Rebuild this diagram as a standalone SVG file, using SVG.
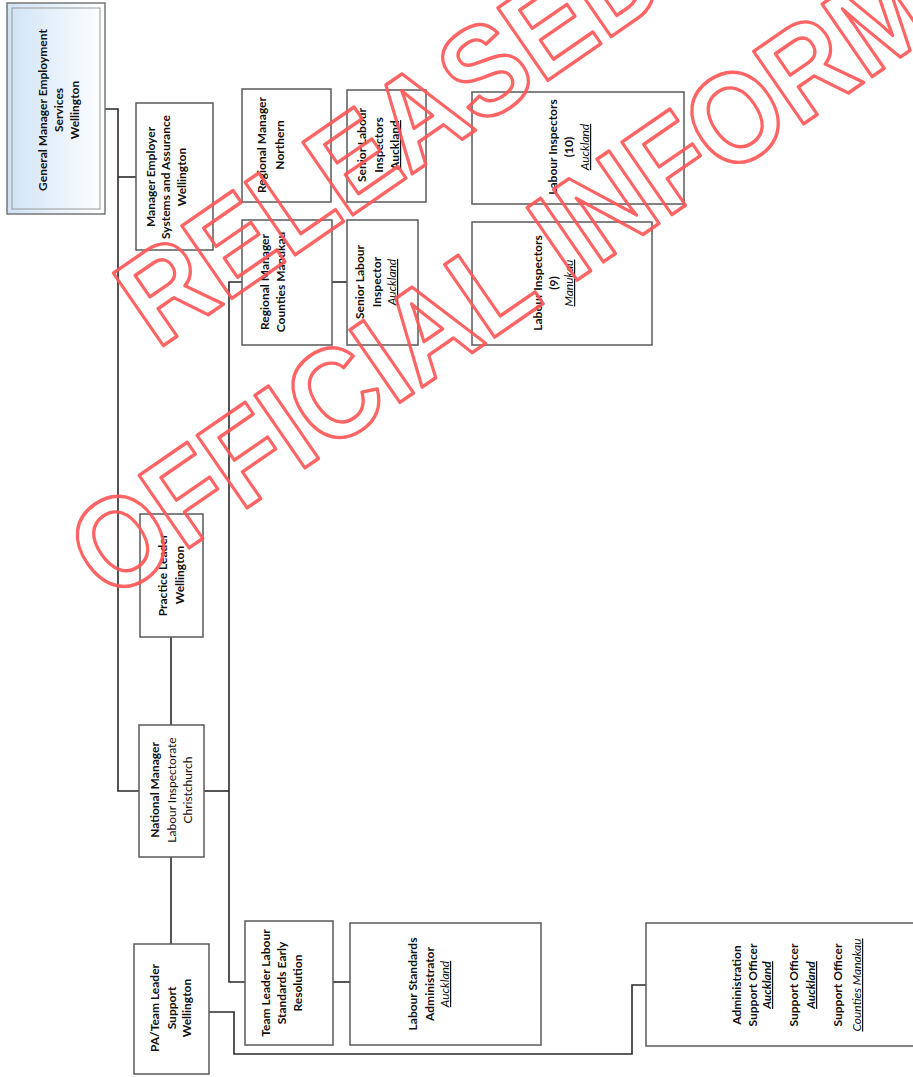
<svg xmlns="http://www.w3.org/2000/svg" width="913" height="1077" viewBox="0 0 913 1077">
<defs>
<linearGradient id="gBlue" x1="0" y1="0" x2="1" y2="0"><stop offset="0" stop-color="#cfe3f5"/><stop offset="1" stop-color="#ffffff"/></linearGradient>
<linearGradient id="gYel" x1="0" y1="0" x2="1" y2="0"><stop offset="0" stop-color="#eef3c4"/><stop offset="1" stop-color="#ffffff"/></linearGradient>
<linearGradient id="gLav" x1="0" y1="0" x2="1" y2="0"><stop offset="0" stop-color="#bdbde8"/><stop offset="1" stop-color="#ffffff"/></linearGradient>
<linearGradient id="gTeal" x1="0" y1="0" x2="1" y2="0"><stop offset="0" stop-color="#cdebe6"/><stop offset="0.5" stop-color="#7cc3bd"/><stop offset="1" stop-color="#22817f"/></linearGradient>
</defs>
<style>
.box{stroke:#5a5a5a;stroke-width:1.5;fill:#fff}
.t{font-family:Lato,"Liberation Sans",sans-serif;font-size:12px;fill:#111;text-anchor:middle}
.b{font-weight:700}
.i{font-style:italic;text-decoration:underline}
.u{text-decoration:underline}
.c{fill:none;stroke:#2a2a2a;stroke-width:1.6}
.wm{font-family:"Liberation Sans",Arial,sans-serif;font-weight:700;font-size:128px;fill:none;stroke:#ff5555;stroke-width:3.5;stroke-linejoin:round;opacity:0.9}
</style>
<rect width="913" height="1077" fill="#ffffff"/>
<g id="connectors" class="c">
<polyline points="104,109 118,109 118,791 139,791"/>
<line x1="118" y1="177" x2="136" y2="177"/>
<line x1="171" y1="637" x2="171" y2="725"/>
<line x1="204" y1="791" x2="229" y2="791"/>
<polyline points="242,282 229,282 229,982 245,982"/>
<line x1="332" y1="282" x2="347" y2="282"/>
<line x1="333" y1="982" x2="350" y2="982"/>
<line x1="171" y1="857" x2="171" y2="944"/>
<polyline points="209,1012 234,1012 234,1054 632,1054 632,985 646,985"/>
</g>
<g id="gm">
<rect x="7" y="3" width="98" height="211" fill="url(#gBlue)" stroke="#777" stroke-width="1.5"/>
<rect x="12" y="8" width="88" height="201" fill="none" stroke="#999" stroke-width="1"/>
<g transform="rotate(-90)">
<text class="t b" x="-110" y="47">General Manager Employment</text>
<text class="t b" x="-110" y="63">Services</text>
<text class="t b" x="-110" y="79">Wellington</text>
</g>
</g>
<g id="mesa">
<rect class="box" x="136" y="103" width="77" height="147" fill="url(#gYel)"/>
<g transform="rotate(-90)">
<text class="t b" x="-177" y="155">Manager Employer</text>
<text class="t b" x="-177" y="170">Systems and Assurance</text>
<text class="t b" x="-177" y="186">Wellington</text>
</g>
</g>
<g id="rmn">
<rect class="box" x="242" y="89" width="89" height="113" fill="url(#gLav)"/>
<g transform="rotate(-90)">
<text class="t b" x="-145" y="266">Regional Manager</text>
<text class="t b" x="-145" y="284">Northern</text>
</g>
</g>
<g id="slis">
<rect class="box" x="347" y="90" width="79" height="112"/>
<g transform="rotate(-90)">
<text class="t b" x="-145" y="366">Senior Labour</text>
<text class="t b" x="-145" y="383">Inspectors</text>
<text class="t b u" x="-145" y="399">Auckland</text>
</g>
</g>
<g id="li10">
<rect class="box" x="472" y="92" width="212" height="112"/>
<g transform="rotate(-90)">
<text class="t b" x="-147" y="557">Labour Inspectors</text>
<text class="t b" x="-147" y="573">(10)</text>
<text class="t i" x="-147" y="589">Auckland</text>
</g>
</g>
<g id="rmcm">
<rect class="box" x="242" y="220" width="90" height="125" fill="url(#gLav)"/>
<g transform="rotate(-90)">
<text class="t b" x="-282" y="269">Regional Manager</text>
<text class="t b" x="-282" y="285">Counties Manukau</text>
</g>
</g>
<g id="sli">
<rect class="box" x="347" y="220" width="71" height="125"/>
<g transform="rotate(-90)">
<text class="t b" x="-282" y="364">Senior Labour</text>
<text class="t b" x="-282" y="381">Inspector</text>
<text class="t i" x="-282" y="396">Auckland</text>
</g>
</g>
<g id="li9">
<rect class="box" x="472" y="222" width="180" height="123"/>
<g transform="rotate(-90)">
<text class="t b" x="-283" y="542">Labour Inspectors</text>
<text class="t b" x="-283" y="558">(9)</text>
<text class="t i" x="-283" y="573">Manukau</text>
</g>
</g>
<g id="pl">
<rect class="box" x="140" y="514" width="63" height="123"/>
<g transform="rotate(-90)">
<text class="t b" x="-575" y="167">Practice Leader</text>
<text class="t b" x="-575" y="184">Wellington</text>
</g>
</g>
<g id="nm">
<rect class="box" x="139" y="725" width="65" height="132"/>
<g transform="rotate(-90)">
<text class="t b" x="-790" y="159">National Manager</text>
<text class="t" x="-790" y="176">Labour Inspectorate</text>
<text class="t" x="-790" y="192">Christchurch</text>
</g>
</g>
<g id="pa">
<rect class="box" x="134" y="944" width="75" height="130" fill="url(#gTeal)"/>
<g transform="rotate(-90)">
<text class="t b" x="-1008" y="159">PA/Team Leader</text>
<text class="t b" x="-1008" y="176">Support</text>
<text class="t b" x="-1008" y="191">Wellington</text>
</g>
</g>
<g id="tl">
<rect class="box" x="245" y="921" width="88" height="124" fill="url(#gLav)"/>
<g transform="rotate(-90)">
<text class="t b" x="-983" y="270">Team Leader Labour</text>
<text class="t b" x="-983" y="286">Standards Early</text>
<text class="t b" x="-983" y="302">Resolution</text>
</g>
</g>
<g id="lsa">
<rect class="box" x="350" y="923" width="191" height="122"/>
<g transform="rotate(-90)">
<text class="t b" x="-984" y="417">Labour Standards</text>
<text class="t b" x="-984" y="434">Administrator</text>
<text class="t i" x="-984" y="449">Auckland</text>
</g>
</g>
<g id="adm">
<rect class="box" x="646" y="923" width="290" height="123"/>
<g transform="rotate(-90)">
<text class="t b" x="-985" y="741">Administration</text>
<text class="t b" x="-985" y="757">Support Officer</text>
<text class="t i b" x="-985" y="771">Auckland</text>
<text class="t b" x="-985" y="798">Support Officer</text>
<text class="t i b" x="-985" y="815">Auckland</text>
<text class="t b" x="-985" y="842">Support Officer</text>
<text class="t i" x="-985" y="861">Counties Manakau</text>
</g>
</g>
<g id="watermark">
<text class="wm" transform="translate(157,350) rotate(-34.6) scale(0.9,1)">RELEASED</text>
<text class="wm" transform="translate(109,603) rotate(-34.6) scale(0.9,1)">OFFICIAL INFORMATION</text>
</g>
</svg>
